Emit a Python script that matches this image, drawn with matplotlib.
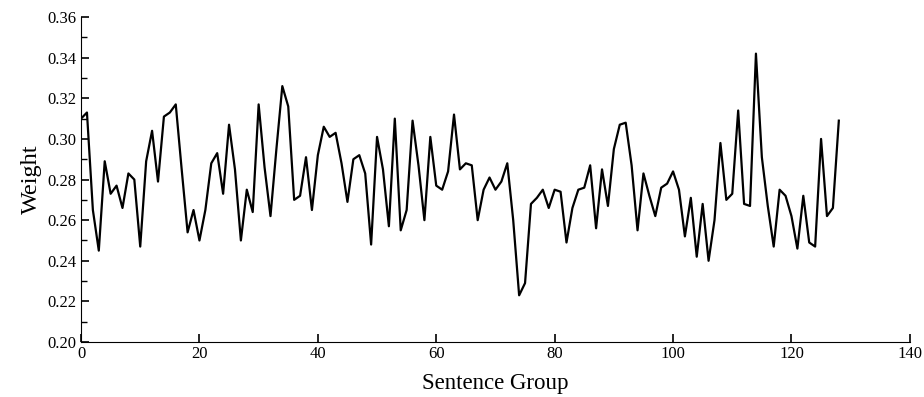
import matplotlib
matplotlib.use("Agg")
import matplotlib.pyplot as plt
import numpy as np
from matplotlib.ticker import MultipleLocator

plt.rcParams['font.family'] = ['Liberation Serif', 'DejaVu Serif']

# weight per sentence group
group = np.arange(129)
weight = [
    0.310, 0.313, 0.265, 0.245, 0.289, 0.273, 0.277, 0.266, 0.283, 0.280,
    0.247, 0.289, 0.304, 0.279, 0.311, 0.313, 0.317, 0.285, 0.254, 0.265,
    0.250, 0.265, 0.288, 0.293, 0.273, 0.307, 0.285, 0.250, 0.275, 0.264,
    0.317, 0.286, 0.262, 0.295, 0.326, 0.316, 0.270, 0.272, 0.291, 0.265,
    0.292, 0.306, 0.301, 0.303, 0.288, 0.269, 0.290, 0.292, 0.283, 0.248,
    0.301, 0.285, 0.257, 0.310, 0.255, 0.265, 0.309, 0.287, 0.260, 0.301,
    0.277, 0.275, 0.284, 0.312, 0.285, 0.288, 0.287, 0.260, 0.275, 0.281,
    0.275, 0.279, 0.288, 0.260, 0.223, 0.229, 0.268, 0.271, 0.275, 0.266,
    0.275, 0.274, 0.249, 0.266, 0.275, 0.276, 0.287, 0.256, 0.285, 0.267,
    0.295, 0.307, 0.308, 0.287, 0.255, 0.283, 0.272, 0.262, 0.276, 0.278,
    0.284, 0.275, 0.252, 0.271, 0.242, 0.268, 0.240, 0.260, 0.298, 0.270,
    0.273, 0.314, 0.268, 0.267, 0.342, 0.291, 0.267, 0.247, 0.275, 0.272,
    0.262, 0.246, 0.272, 0.249, 0.247, 0.300, 0.262, 0.266, 0.309,
]

fig = plt.figure(figsize=(9.24, 3.97), dpi=100)
ax = fig.add_axes([0.0877, 0.1385, 0.897, 0.8185])

ax.plot(group, weight, color='black', linewidth=1.6)

ax.set_xlim(0, 140)
ax.set_ylim(0.20, 0.36)
ax.xaxis.set_major_locator(MultipleLocator(20))
ax.yaxis.set_major_locator(MultipleLocator(0.02))
ax.yaxis.set_minor_locator(MultipleLocator(0.01))
ax.set_yticklabels([f"{v:.2f}" for v in ax.get_yticks()])

ax.spines['top'].set_visible(False)
ax.spines['right'].set_visible(False)
ax.tick_params(direction='in', labelsize=12, length=6, width=1.2, pad=3)
ax.tick_params(which='minor', direction='in', length=4, width=1)

ax.set_xlabel("Sentence Group", fontsize=16.5, labelpad=8)
ax.set_ylabel("Weight", fontsize=17.5, labelpad=4)

fig.savefig("out.png", dpi=100)
